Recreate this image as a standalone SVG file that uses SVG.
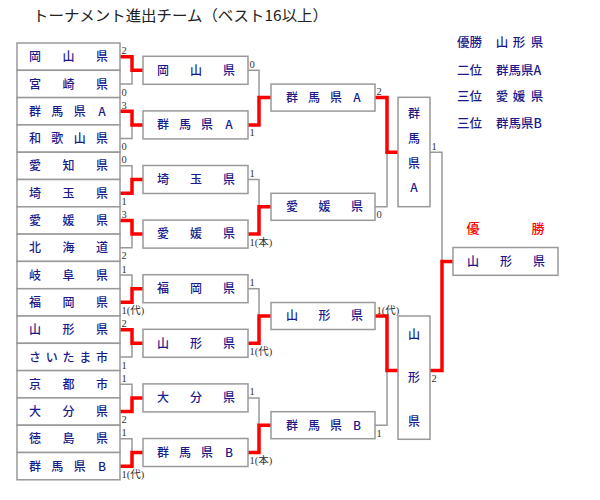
<svg xmlns="http://www.w3.org/2000/svg" width="600" height="500" viewBox="0 0 600 500">
<style>
.bx{fill:#fff;stroke:#999;stroke-width:1.5}
.nm{font-family:"Noto Sans CJK JP",sans-serif;font-size:12px;font-weight:500;fill:#1a1a8c;text-anchor:middle}
.sc{font-family:"Liberation Serif","Noto Sans CJK JP",serif;font-size:10.5px;fill:#333}
.g{fill:none;stroke:#999;stroke-width:1.5}
.r{fill:none;stroke:#ff0000;stroke-width:3.5;stroke-linejoin:miter}
.lg{font-family:"Noto Sans CJK JP",sans-serif;font-size:12.5px;font-weight:500;fill:#1a1a8c}
</style>
<rect width="600" height="500" fill="#fff"/>
<text x="33" y="20.5" font-family="Noto Sans CJK JP, sans-serif" font-size="15" fill="#222" textLength="295" lengthAdjust="spacingAndGlyphs">トーナメント進出チーム（ベスト16以上）</text>

<g id="connectors">
<path class="g" d="M120 56.65H132V83.95H120M132 70.3H143"/>
<path class="g" d="M120 111.25H132V138.55H120M132 124.9H143"/>
<path class="g" d="M120 165.85H132V193.15H120M132 179.5H143"/>
<path class="g" d="M120 220.45H132V247.75H120M132 234.1H143"/>
<path class="g" d="M120 275.05H132V302.35H120M132 288.7H143"/>
<path class="g" d="M120 329.65H132V356.95H120M132 343.3H143"/>
<path class="g" d="M120 384.25H132V411.55H120M132 397.9H143"/>
<path class="g" d="M120 438.85H132V466.15H120M132 452.5H143"/>
<path class="g" d="M248 70.3H259V124.9H248M259 97.6H271"/>
<path class="g" d="M248 179.5H259V234.1H248M259 206.8H271"/>
<path class="g" d="M248 288.7H259V343.3H248M259 316H271"/>
<path class="g" d="M248 397.9H259V452.5H248M259 425.2H271"/>
<path class="g" d="M375 97.6H387V206.8H375M387 152.2H398"/>
<path class="g" d="M375 316H387V425.2H375M387 370.6H398"/>
<path class="g" d="M430 152.2H442V370.6H430M442 261.4H453"/>
<path class="r" d="M120 56.65H132V70.3H143"/>
<path class="r" d="M120 111.25H132V124.9H143"/>
<path class="r" d="M120 193.15H132V179.5H143"/>
<path class="r" d="M120 220.45H132V234.1H143"/>
<path class="r" d="M120 302.35H132V288.7H143"/>
<path class="r" d="M120 329.65H132V343.3H143"/>
<path class="r" d="M120 411.55H132V397.9H143"/>
<path class="r" d="M120 466.15H132V452.5H143"/>
<path class="r" d="M248 124.9H259V97.6H271"/>
<path class="r" d="M248 234.1H259V206.8H271"/>
<path class="r" d="M248 343.3H259V316H271"/>
<path class="r" d="M248 452.5H259V425.2H271"/>
<path class="r" d="M375 97.6H387V152.2H398"/>
<path class="r" d="M375 316H387V370.6H398"/>
<path class="r" d="M430 370.6H442V261.4H453"/>
</g>

<g id="r1-okayama"><rect class="bx" x="17" y="43" width="103" height="27.3"/><text class="nm" x="35 68.5 102" y="61.2">岡山県</text></g>
<g id="r1-miyazaki"><rect class="bx" x="17" y="70.3" width="103" height="27.3"/><text class="nm" x="35 68.5 102" y="88.5">宮崎県</text></g>
<g id="r1-gunma-a"><rect class="bx" x="17" y="97.6" width="103" height="27.3"/><text class="nm" x="35 57.3 79.7 102" y="115.8">群馬県A</text></g>
<g id="r1-wakayama"><rect class="bx" x="17" y="124.9" width="103" height="27.3"/><text class="nm" x="35 57.3 79.7 102" y="143.1">和歌山県</text></g>
<g id="r1-aichi"><rect class="bx" x="17" y="152.2" width="103" height="27.3"/><text class="nm" x="35 68.5 102" y="170.4">愛知県</text></g>
<g id="r1-saitama"><rect class="bx" x="17" y="179.5" width="103" height="27.3"/><text class="nm" x="35 68.5 102" y="197.7">埼玉県</text></g>
<g id="r1-ehime"><rect class="bx" x="17" y="206.8" width="103" height="27.3"/><text class="nm" x="35 68.5 102" y="225">愛媛県</text></g>
<g id="r1-hokkaido"><rect class="bx" x="17" y="234.1" width="103" height="27.3"/><text class="nm" x="35 68.5 102" y="252.3">北海道</text></g>
<g id="r1-gifu"><rect class="bx" x="17" y="261.4" width="103" height="27.3"/><text class="nm" x="35 68.5 102" y="279.6">岐阜県</text></g>
<g id="r1-fukuoka"><rect class="bx" x="17" y="288.7" width="103" height="27.3"/><text class="nm" x="35 68.5 102" y="306.9">福岡県</text></g>
<g id="r1-yamagata"><rect class="bx" x="17" y="316" width="103" height="27.3"/><text class="nm" x="35 68.5 102" y="334.2">山形県</text></g>
<g id="r1-saitama-city"><rect class="bx" x="17" y="343.3" width="103" height="27.3"/><text class="nm" x="35 51.75 68.5 85.25 102" y="361.5">さいたま市</text></g>
<g id="r1-kyoto"><rect class="bx" x="17" y="370.6" width="103" height="27.3"/><text class="nm" x="35 68.5 102" y="388.8">京都市</text></g>
<g id="r1-oita"><rect class="bx" x="17" y="397.9" width="103" height="27.3"/><text class="nm" x="35 68.5 102" y="416.1">大分県</text></g>
<g id="r1-tokushima"><rect class="bx" x="17" y="425.2" width="103" height="27.3"/><text class="nm" x="35 68.5 102" y="443.4">徳島県</text></g>
<g id="r1-gunma-b"><rect class="bx" x="17" y="452.5" width="103" height="27.3"/><text class="nm" x="35 57.3 79.7 102" y="470.7">群馬県B</text></g>

<g id="r2-okayama"><rect class="bx" x="143" y="56.3" width="105" height="28"/><text class="nm" x="163 196 229" y="74.6">岡山県</text></g>
<g id="r2-gunma-a"><rect class="bx" x="143" y="110.9" width="105" height="28"/><text class="nm" x="163 185 207 229" y="129.2">群馬県A</text></g>
<g id="r2-saitama"><rect class="bx" x="143" y="165.5" width="105" height="28"/><text class="nm" x="163 196 229" y="183.8">埼玉県</text></g>
<g id="r2-ehime"><rect class="bx" x="143" y="220.1" width="105" height="28"/><text class="nm" x="163 196 229" y="238.4">愛媛県</text></g>
<g id="r2-fukuoka"><rect class="bx" x="143" y="274.7" width="105" height="28"/><text class="nm" x="163 196 229" y="293">福岡県</text></g>
<g id="r2-yamagata"><rect class="bx" x="143" y="329.3" width="105" height="28"/><text class="nm" x="163 196 229" y="347.6">山形県</text></g>
<g id="r2-oita"><rect class="bx" x="143" y="383.9" width="105" height="28"/><text class="nm" x="163 196 229" y="402.2">大分県</text></g>
<g id="r2-gunma-b"><rect class="bx" x="143" y="438.5" width="105" height="28"/><text class="nm" x="163 185 207 229" y="456.8">群馬県B</text></g>

<g id="r3-gunma-a"><rect class="bx" x="271" y="84.1" width="104" height="27"/><text class="nm" x="292 314 336 357" y="101.9">群馬県A</text></g>
<g id="r3-ehime"><rect class="bx" x="271" y="193.3" width="104" height="27"/><text class="nm" x="292 324.5 357" y="211.1">愛媛県</text></g>
<g id="r3-yamagata"><rect class="bx" x="271" y="302.5" width="104" height="27"/><text class="nm" x="292 324.5 357" y="320.3">山形県</text></g>
<g id="r3-gunma-b"><rect class="bx" x="271" y="411.7" width="104" height="27"/><text class="nm" x="292 314 336 357" y="429.5">群馬県B</text></g>

<g id="r4-gunma-a"><rect class="bx" x="398" y="97.3" width="32" height="109.4"/><text class="nm" x="414 414 414 414" y="118.3 143.3 168.3 192.3">群馬県A</text></g>
<g id="r4-yamagata"><rect class="bx" x="398" y="316" width="32" height="123.3"/><text class="nm" x="414 414 414" y="339.3 382 426">山形県</text></g>

<g id="champion"><text x="473 538" y="232.5" font-family="Noto Sans CJK JP, sans-serif" font-size="13" font-weight="500" fill="#ff0000" text-anchor="middle">優勝</text><rect class="bx" x="453" y="247.5" width="105" height="27.8"/><text class="nm" x="473 506 539" y="265.8">山形県</text></g>

<g id="scores" class="sc">
<text x="121.5" y="54.2">2</text><text x="121.5" y="95.5">0</text>
<text x="121.5" y="108.8">3</text><text x="121.5" y="150.1">0</text>
<text x="121.5" y="163.4">0</text><text x="121.5" y="204.7">1</text>
<text x="121.5" y="218">3</text><text x="121.5" y="259.3">2</text>
<text x="121.5" y="272.6">1</text><text x="121.5" y="313.9">1(代)</text>
<text x="121.5" y="327.2">2</text><text x="121.5" y="368.5">1</text>
<text x="121.5" y="381.8">1</text><text x="121.5" y="423.1">2</text>
<text x="121.5" y="436.4">1</text><text x="121.5" y="477.7">1(代)</text>
<text x="249.5" y="67.8">0</text><text x="249.5" y="136.4">1</text>
<text x="249.5" y="177">1</text><text x="249.5" y="245.6">1(本)</text>
<text x="249.5" y="286.2">1</text><text x="249.5" y="354.8">1(代)</text>
<text x="249.5" y="395.4">1</text><text x="249.5" y="464">1(本)</text>
<text x="376.5" y="95.1">2</text><text x="376.5" y="218.3">0</text>
<text x="376.5" y="313.5">1(代)</text><text x="376.5" y="436.7">1</text>
<text x="431.5" y="149.7">1</text><text x="431.5" y="382.1">2</text>
</g>

<g id="legend" class="lg">
<text x="457" y="47">優勝</text><text x="502 519 537" y="47" text-anchor="middle">山形県</text>
<text x="457" y="74.5">二位</text><text x="496" y="74.5">群馬県A</text>
<text x="457" y="101">三位</text><text x="502 519 537" y="101" text-anchor="middle">愛媛県</text>
<text x="457" y="127.5">三位</text><text x="496" y="127.5">群馬県B</text>
</g>
</svg>
